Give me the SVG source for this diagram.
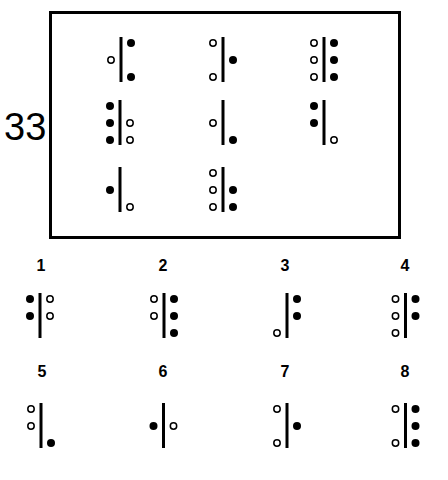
<svg xmlns="http://www.w3.org/2000/svg" width="448" height="480" viewBox="0 0 448 480">
<style>
.bar{stroke:#000;stroke-width:3;fill:none}
.f{fill:#000}
.o{fill:#fff;stroke:#000;stroke-width:1.5}
.lbl{font-family:"Liberation Sans",Arial,sans-serif;font-weight:bold;font-size:16px;text-anchor:middle;fill:#000}
.num{font-family:"Liberation Sans",Arial,sans-serif;font-size:38px;fill:#000}
</style>
<rect width="448" height="480" fill="#fff"/>
<g id="frame">
<rect x="50.5" y="12.5" width="349" height="225" fill="none" stroke="#000" stroke-width="3"/>
<text class="num" x="4" y="140">33</text>
</g>
<g id="g-r1c1" transform="translate(121,37)"><line class="bar" x1="0" y1="0" x2="0" y2="45"/><circle class="o" cx="-10" cy="23" r="3.2"/><circle class="f" cx="10" cy="6" r="4"/><circle class="f" cx="10" cy="40" r="4"/></g>
<g id="g-r1c2" transform="translate(223,37)"><line class="bar" x1="0" y1="0" x2="0" y2="45"/><circle class="o" cx="-10" cy="6" r="3.2"/><circle class="o" cx="-10" cy="40" r="3.2"/><circle class="f" cx="10" cy="23" r="4"/></g>
<g id="g-r1c3" transform="translate(324,37)"><line class="bar" x1="0" y1="0" x2="0" y2="45"/><circle class="o" cx="-10" cy="6" r="3.2"/><circle class="o" cx="-10" cy="23" r="3.2"/><circle class="o" cx="-10" cy="40" r="3.2"/><circle class="f" cx="10" cy="6" r="4"/><circle class="f" cx="10" cy="23" r="4"/><circle class="f" cx="10" cy="40" r="4"/></g>
<g id="g-r2c1" transform="translate(120,100)"><line class="bar" x1="0" y1="0" x2="0" y2="45"/><circle class="f" cx="-10" cy="6" r="4"/><circle class="f" cx="-10" cy="23" r="4"/><circle class="f" cx="-10" cy="40" r="4"/><circle class="o" cx="10" cy="23" r="3.2"/><circle class="o" cx="10" cy="40" r="3.2"/></g>
<g id="g-r2c2" transform="translate(223,100)"><line class="bar" x1="0" y1="0" x2="0" y2="45"/><circle class="o" cx="-10" cy="23" r="3.2"/><circle class="f" cx="10" cy="40" r="4"/></g>
<g id="g-r2c3" transform="translate(324,100)"><line class="bar" x1="0" y1="0" x2="0" y2="45"/><circle class="f" cx="-10" cy="6" r="4"/><circle class="f" cx="-10" cy="23" r="4"/><circle class="o" cx="10" cy="40" r="3.2"/></g>
<g id="g-r3c1" transform="translate(120,167)"><line class="bar" x1="0" y1="0" x2="0" y2="45"/><circle class="f" cx="-10" cy="23" r="4"/><circle class="o" cx="10" cy="40" r="3.2"/></g>
<g id="g-r3c2" transform="translate(223,167)"><line class="bar" x1="0" y1="0" x2="0" y2="45"/><circle class="o" cx="-10" cy="6" r="3.2"/><circle class="o" cx="-10" cy="23" r="3.2"/><circle class="o" cx="-10" cy="40" r="3.2"/><circle class="f" cx="10" cy="23" r="4"/><circle class="f" cx="10" cy="40" r="4"/></g>
<g id="labels">
<text class="lbl" x="41" y="271">1</text>
<text class="lbl" x="163" y="271">2</text>
<text class="lbl" x="285" y="271">3</text>
<text class="lbl" x="405" y="271">4</text>
<text class="lbl" x="42" y="377">5</text>
<text class="lbl" x="163" y="377">6</text>
<text class="lbl" x="285" y="377">7</text>
<text class="lbl" x="405" y="377">8</text>
</g>
<g id="opt1" transform="translate(40,293)"><line class="bar" x1="0" y1="0" x2="0" y2="45"/><circle class="f" cx="-10" cy="6" r="4"/><circle class="f" cx="-10" cy="23" r="4"/><circle class="o" cx="10" cy="6" r="3.2"/><circle class="o" cx="10" cy="23" r="3.2"/></g>
<g id="opt2" transform="translate(164,293)"><line class="bar" x1="0" y1="0" x2="0" y2="45"/><circle class="o" cx="-10" cy="6" r="3.2"/><circle class="o" cx="-10" cy="23" r="3.2"/><circle class="f" cx="10" cy="6" r="4"/><circle class="f" cx="10" cy="23" r="4"/><circle class="f" cx="10" cy="40" r="4"/></g>
<g id="opt3" transform="translate(287,293)"><line class="bar" x1="0" y1="0" x2="0" y2="45"/><circle class="o" cx="-10" cy="40" r="3.2"/><circle class="f" cx="10" cy="6" r="4"/><circle class="f" cx="10" cy="23" r="4"/></g>
<g id="opt4" transform="translate(405.5,293)"><line class="bar" x1="0" y1="0" x2="0" y2="45"/><circle class="o" cx="-10" cy="6" r="3.2"/><circle class="o" cx="-10" cy="23" r="3.2"/><circle class="o" cx="-10" cy="40" r="3.2"/><circle class="f" cx="10" cy="6" r="4"/><circle class="f" cx="10" cy="23" r="4"/></g>
<g id="opt5" transform="translate(41,403)"><line class="bar" x1="0" y1="0" x2="0" y2="45"/><circle class="o" cx="-10" cy="6" r="3.2"/><circle class="o" cx="-10" cy="23" r="3.2"/><circle class="f" cx="10" cy="40" r="4"/></g>
<g id="opt6" transform="translate(163.5,403)"><line class="bar" x1="0" y1="0" x2="0" y2="45"/><circle class="f" cx="-10" cy="23" r="4"/><circle class="o" cx="10" cy="23" r="3.2"/></g>
<g id="opt7" transform="translate(287,403)"><line class="bar" x1="0" y1="0" x2="0" y2="45"/><circle class="o" cx="-10" cy="6" r="3.2"/><circle class="o" cx="-10" cy="40" r="3.2"/><circle class="f" cx="10" cy="23" r="4"/></g>
<g id="opt8" transform="translate(405.5,403)"><line class="bar" x1="0" y1="0" x2="0" y2="45"/><circle class="o" cx="-10" cy="6" r="3.2"/><circle class="o" cx="-10" cy="40" r="3.2"/><circle class="f" cx="10" cy="6" r="4"/><circle class="f" cx="10" cy="23" r="4"/><circle class="f" cx="10" cy="40" r="4"/></g>
</svg>
